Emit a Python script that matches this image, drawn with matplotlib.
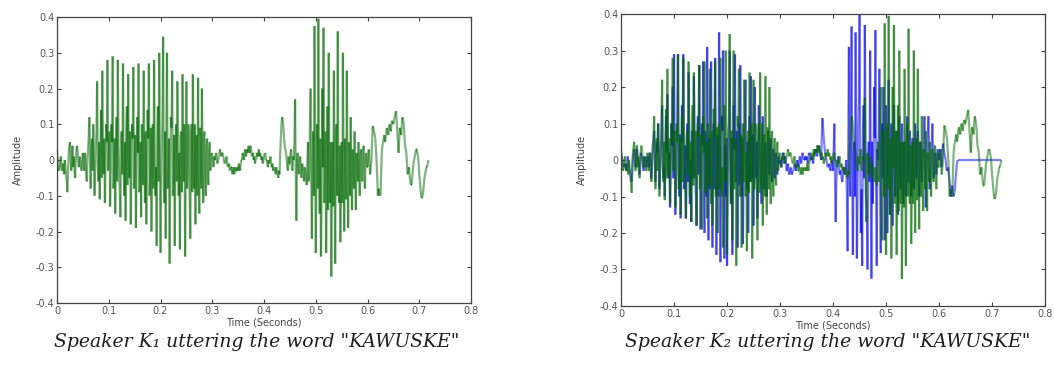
"""
Two speech waveforms of the word "KAWUSKE": speaker K1 alone,
and speaker K2 (blue) overlaid with speaker K1 (green).
"""

import numpy as np
import matplotlib
matplotlib.use('Agg')
import matplotlib.pyplot as plt
from matplotlib.collections import LineCollection

plt.rcParams['axes.unicode_minus'] = False

sample_rate = 800.  # samples per second of the traced waveforms

# speaker K1, one row = 0.05 s
k1_wave = [
    0.03, 0.0, -0.01, -0.03, -0.02, 0.0, 0.01, -0.02, -0.03, -0.01, -0.02, -0.04, 0.0, -0.02, -0.04, -0.06, -0.09, -0.03, 0.02, 0.04,
    0.05, 0.0, -0.03, 0.02, 0.04, -0.02, 0.01, -0.03, -0.05, 0.0, 0.03, 0.04, 0.02, -0.01, -0.02, 0.01, 0.0, -0.02, -0.03, 0.0,
    0.02, -0.01, -0.03, 0.02, 0.01, -0.04, -0.06, 0.0, 0.03, 0.06, 0.12, 0.0, -0.08, 0.03, 0.06, -0.03, 0.1, 0.02, -0.1, -0.02,
    0.04, 0.08, 0.22, -0.02, -0.06, 0.05, -0.11, 0.02, 0.14, -0.05, 0.25, 0.03, -0.04, 0.06, -0.12, -0.02, 0.1, 0.05, 0.28, -0.03,
    0.02, 0.08, -0.13, -0.04, 0.1, 0.05, 0.29, -0.08, -0.06, 0.06, -0.15, 0.02, 0.12, -0.06, 0.28, 0.04, -0.02, -0.09, -0.16, 0.07,
    0.08, -0.04, 0.27, -0.02, -0.1, 0.05, -0.17, 0.09, 0.15, -0.07, 0.24, 0.0, -0.05, 0.08, -0.18, -0.03, 0.1, 0.06, 0.26, -0.08,
    -0.04, 0.07, -0.19, -0.02, 0.12, 0.02, 0.27, -0.09, -0.08, 0.05, -0.16, 0.1, 0.05, -0.07, 0.25, 0.03, -0.12, 0.08, -0.18, -0.05,
    0.14, 0.06, 0.27, -0.1, -0.05, 0.09, -0.2, 0.02, 0.1, -0.08, 0.28, 0.05, -0.1, -0.02, -0.24, 0.08, 0.15, -0.06, 0.3, 0.0,
    -0.26, -0.05, 0.05, 0.12, 0.345, -0.06, -0.12, 0.08, -0.22, 0.1, 0.3, -0.08, -0.02, 0.06, -0.29, -0.04, 0.12, 0.09, 0.25, -0.1,
    -0.08, 0.07, -0.24, 0.03, 0.1, -0.06, 0.22, 0.1, -0.1, 0.02, -0.25, 0.07, 0.08, -0.09, 0.24, 0.04, -0.06, 0.1, -0.27, -0.02,
    0.22, -0.08, -0.05, 0.1, 0.08, -0.1, -0.22, 0.06, 0.1, -0.09, 0.24, -0.04, -0.08, 0.1, -0.18, 0.05, 0.07, -0.1, 0.23, -0.06,
    -0.15, 0.09, 0.06, -0.08, 0.2, -0.04, -0.12, 0.07, 0.08, -0.06, -0.1, 0.04, 0.06, -0.05, -0.07, 0.03, 0.05, -0.03, -0.02, 0.02,
    0.01, 0.0, -0.02, 0.01, 0.0, 0.01, 0.02, 0.0, -0.01, 0.0, 0.01, 0.02, 0.03, 0.02, 0.01, 0.02, 0.02, 0.01, 0.0, -0.01,
    -0.01, 0.0, 0.01, -0.01, -0.02, -0.02, -0.01, -0.03, -0.03, -0.02, -0.02, -0.04, -0.03, -0.02, -0.04, -0.03, -0.02, -0.03, -0.03, -0.02,
    -0.03, -0.01, -0.02, -0.03, -0.01, 0.0, 0.0, 0.02, 0.01, 0.0, 0.02, 0.03, 0.01, 0.02, 0.03, 0.02, 0.04, 0.03, 0.02, 0.04,
    0.03, 0.01, 0.01, 0.02, 0.0, 0.01, -0.01, 0.0, 0.0, 0.02, 0.01, 0.02, 0.03, 0.01, 0.02, 0.01, 0.0, 0.01, -0.01, 0.0,
    0.01, 0.02, 0.02, 0.0, 0.0, -0.01, -0.02, 0.0, -0.01, 0.0, 0.01, -0.01, -0.02, -0.01, -0.03, -0.02, -0.02, -0.03, -0.04, -0.02,
    -0.03, -0.04, -0.05, -0.03, -0.04, 0.02, 0.06, 0.1, 0.12, 0.11, 0.09, 0.06, 0.04, 0.03, 0.02, 0.0, -0.02, -0.03, 0.01, -0.01,
    -0.01, 0.02, 0.03, -0.02, -0.03, 0.01, 0.0, 0.05, 0.17, -0.04, -0.17, 0.0, 0.02, -0.03, -0.04, 0.0, 0.01, -0.03, -0.05, -0.01,
    -0.02, -0.04, -0.06, -0.02, -0.03, -0.05, -0.07, 0.0, 0.05, -0.06, -0.03, 0.1, 0.2, -0.05, -0.22, 0.0, 0.08, -0.1, 0.375, 0.05,
    -0.26, -0.04, 0.1, -0.08, 0.395, 0.02, -0.15, 0.06, -0.27, -0.1, 0.2, -0.02, 0.37, -0.12, -0.05, 0.08, -0.26, -0.06, 0.15, -0.14,
    0.3, 0.0, -0.12, 0.05, -0.326, -0.08, 0.05, -0.13, 0.25, -0.02, -0.29, 0.07, 0.1, -0.1, 0.36, -0.05, -0.12, 0.04, -0.23, -0.09,
    0.05, -0.12, 0.3, -0.04, -0.2, 0.06, -0.06, -0.11, 0.25, -0.02, -0.19, 0.05, 0.02, -0.1, 0.12, -0.05, -0.14, 0.03, -0.03, -0.08,
    0.08, -0.04, -0.14, 0.02, -0.02, -0.06, 0.05, -0.03, -0.1, 0.01, 0.03, -0.05, -0.06, 0.02, 0.04, -0.04, -0.08, 0.0, 0.02, -0.02,
    -0.02, 0.01, 0.03, -0.01, -0.04, -0.02, 0.0, 0.05, 0.095, 0.09, 0.08, 0.07, 0.06, 0.03, 0.0, -0.05, -0.1, -0.08, -0.09, -0.1,
    -0.1, -0.04, 0.02, 0.04, 0.05, 0.06, 0.07, 0.05, 0.06, 0.08, 0.09, 0.08, 0.07, 0.09, 0.1, 0.09, 0.08, 0.1, 0.11, 0.1,
    0.1, 0.11, 0.12, 0.13, 0.137, 0.11, 0.08, 0.05, 0.02, 0.06, 0.09, 0.08, 0.07, 0.1, 0.12, 0.11, 0.1, 0.07, 0.04, 0.03,
    0.02, -0.01, -0.04, -0.03, -0.02, -0.04, -0.06, -0.07, -0.07, -0.05, -0.03, -0.01, 0.0, 0.01, 0.02, 0.03, 0.03, 0.02, 0.01, -0.01,
    -0.04, -0.06, -0.08, -0.1, -0.107, -0.1, -0.09, -0.07, -0.05, -0.04, -0.03, -0.02, -0.02, -0.01, 0.0,
]

# speaker K2, zero padded after 0.64 s
k2_wave = [
    0.02, 0.01, 0.0, -0.01, -0.02, -0.02, -0.01, -0.02, -0.03, -0.01, 0.01, 0.0, -0.02, -0.03, -0.04, -0.05, -0.06, -0.02, 0.01, 0.02,
    0.03, 0.0, -0.02, 0.01, 0.03, 0.01, 0.0, -0.02, -0.04, -0.01, 0.02, 0.01, 0.01, -0.01, -0.03, -0.01, 0.01, 0.0, -0.02, -0.01,
    0.01, 0.0, -0.02, 0.0, 0.02, -0.02, -0.05, 0.0, 0.04, 0.05, 0.08, 0.01, -0.06, 0.0, 0.05, 0.02, 0.1, 0.0, -0.08, -0.02,
    0.03, 0.06, 0.15, 0.0, -0.05, -0.02, -0.1, 0.03, 0.12, 0.02, 0.18, -0.02, -0.05, 0.02, -0.13, 0.0, 0.1, 0.04, 0.2, -0.05,
    0.29, 0.05, -0.15, -0.06, 0.05, 0.1, 0.29, -0.02, -0.1, 0.07, -0.16, -0.04, 0.15, 0.05, 0.29, -0.08, -0.05, 0.04, -0.16, 0.02,
    0.1, -0.06, 0.24, 0.06, -0.12, 0.0, -0.17, 0.08, 0.08, -0.05, 0.23, 0.03, -0.06, -0.1, -0.18, 0.05, 0.12, -0.04, 0.26, 0.02,
    -0.19, -0.05, 0.1, 0.04, 0.27, -0.06, -0.2, 0.08, 0.05, -0.1, 0.31, 0.02, -0.22, 0.06, -0.08, 0.1, 0.27, -0.04, -0.24, 0.05,
    0.1, -0.08, 0.28, 0.0, -0.26, 0.07, 0.05, -0.1, 0.35, 0.04, -0.28, -0.02, 0.12, 0.08, 0.3, -0.06, -0.27, 0.04, -0.1, 0.06,
    -0.29, -0.04, 0.08, 0.1, 0.3, -0.02, -0.12, 0.06, -0.26, -0.08, 0.15, 0.03, 0.29, -0.06, -0.05, 0.08, -0.24, -0.02, 0.1, -0.07,
    0.26, 0.04, -0.1, 0.06, -0.23, -0.03, 0.05, 0.09, 0.22, -0.04, -0.08, 0.05, -0.2, 0.02, 0.12, -0.06, 0.23, 0.03, -0.05, 0.07,
    -0.18, 0.02, 0.2, -0.03, -0.05, 0.05, -0.16, -0.02, 0.15, 0.06, 0.03, -0.05, -0.12, 0.04, 0.12, -0.02, -0.08, 0.03, 0.05, -0.04,
    -0.1, 0.02, 0.08, -0.02, -0.04, 0.03, 0.06, -0.03, -0.06, 0.01, 0.03, -0.02, -0.05, 0.0, 0.02, -0.03, -0.04, 0.0, 0.01, -0.01,
    0.0, -0.01, -0.02, 0.0, 0.02, 0.01, -0.01, 0.0, 0.01, -0.01, -0.03, -0.02, -0.01, -0.03, -0.04, -0.03, -0.02, -0.03, -0.04, -0.03,
    -0.03, -0.02, -0.01, -0.02, -0.03, -0.01, 0.0, -0.01, -0.02, 0.0, 0.01, 0.0, -0.01, 0.01, 0.02, 0.01, 0.0, 0.0, 0.01, 0.0,
    0.01, 0.0, -0.01, 0.01, 0.02, 0.01, 0.0, 0.0, 0.01, 0.0, -0.01, 0.01, 0.02, 0.02, 0.03, 0.02, 0.01, 0.03, 0.04, 0.03,
    0.03, 0.01, 0.0, 0.06, 0.115, 0.09, 0.06, 0.04, 0.02, 0.01, 0.0, -0.01, -0.02, -0.02, -0.01, -0.02, -0.03, -0.02, 0.0, -0.01,
    -0.03, 0.03, 0.1, -0.05, -0.17, -0.06, -0.02, 0.0, 0.01, -0.02, -0.04, -0.03, -0.03, -0.05, -0.06, -0.04, -0.02, -0.03, -0.04, -0.02,
    0.0, -0.1, -0.25, 0.05, 0.31, -0.05, -0.1, 0.1, 0.366, -0.04, -0.26, 0.02, 0.05, -0.1, 0.35, 0.05, -0.27, -0.08, 0.1, 0.15,
    0.4, 0.02, -0.2, -0.08, -0.29, 0.04, 0.15, -0.05, 0.37, 0.06, -0.1, -0.12, -0.3, 0.02, 0.05, -0.06, 0.3, -0.04, -0.325, 0.05,
    -0.12, -0.02, 0.2, 0.06, 0.356, -0.08, -0.29, 0.03, 0.0, 0.08, 0.25, -0.06, -0.255, 0.02, 0.1, -0.05, 0.2, 0.04, -0.22, -0.03,
    0.15, -0.03, -0.2, 0.05, 0.22, -0.04, -0.15, 0.03, 0.1, -0.06, -0.18, 0.02, 0.15, -0.03, -0.1, 0.04, 0.08, -0.05, -0.15, 0.02,
    0.12, -0.03, -0.08, 0.04, 0.1, -0.02, -0.12, 0.03, 0.05, -0.04, -0.1, 0.02, 0.12, -0.03, -0.06, 0.04, 0.08, -0.02, -0.1, 0.01,
    0.06, -0.01, -0.08, 0.02, 0.1, -0.01, -0.05, 0.03, 0.08, -0.02, -0.1, 0.01, 0.05, -0.02, -0.06, 0.0, 0.02, 0.06, 0.12, -0.02,
    -0.13, -0.04, 0.03, 0.07, 0.12, 0.02, -0.08, -0.03, 0.0, 0.05, 0.1, 0.02, -0.05, -0.01, 0.02, -0.01, -0.04, 0.0, 0.03, 0.01,
    0.0, 0.02, 0.03, 0.0, -0.02, 0.02, 0.045, 0.03, 0.02, 0.01, 0.0, -0.02, -0.03, -0.02, -0.02, -0.04, -0.06, -0.08, -0.1, -0.08,
    -0.07, -0.09, -0.1, -0.09, -0.08, -0.05, -0.03, -0.01, 0.0, 0.0, 0.0, 0.0, 0.0, 0.0, 0.0, 0.0, 0.0, 0.0, 0.0, 0.0,
    0.0, 0.0, 0.0, 0.0, 0.0, 0.0, 0.0, 0.0, 0.0, 0.0, 0.0, 0.0, 0.0, 0.0, 0.0, 0.0, 0.0, 0.0, 0.0, 0.0,
    0.0, 0.0, 0.0, 0.0, 0.0, 0.0, 0.0, 0.0, 0.0, 0.0, 0.0, 0.0, 0.0, 0.0, 0.0, 0.0, 0.0, 0.0, 0.0, 0.0,
    0.0, 0.0, 0.0, 0.0, 0.0, 0.0, 0.0, 0.0, 0.0, 0.0, 0.0, 0.0, 0.0, 0.0, 0.0,
]

x_ticks = [0, 0.1, 0.2, 0.3, 0.4, 0.5, 0.6, 0.7, 0.8]
y_ticks = [-0.4, -0.3, -0.2, -0.1, 0, 0.1, 0.2, 0.3, 0.4]
captions = ['Speaker K\u2081 uttering the word "KAWUSKE"',
            'Speaker K\u2082 uttering the word "KAWUSKE"']


def add_wave(ax, y, color, lw=1.6):
    t = np.arange(len(y)) / sample_rate
    pts = np.column_stack([t, y])
    segs = np.stack([pts[:-1], pts[1:]], axis=1)
    lc = LineCollection(segs, colors=color, linewidths=lw, alpha=0.5)
    ax.add_collection(lc)


def style(ax):
    ax.set_xlim(0, 0.8)
    ax.set_ylim(-0.4, 0.4)
    ax.set_xticks(x_ticks)
    ax.set_yticks(y_ticks)
    ax.set_xticklabels(['%g' % v for v in x_ticks])
    ax.set_yticklabels(['%g' % v for v in y_ticks])
    ax.tick_params(direction='in', top=True, right=True, length=3,
                   labelsize=7, labelcolor='#555555', color='#444444', pad=2)
    for s in ax.spines.values():
        s.set_color('#444444')
        s.set_linewidth(0.9)
    ax.set_xlabel('Time (Seconds)', fontsize=7, color='#444444', labelpad=1)
    ax.set_ylabel('Amplitude', fontsize=7, color='#444444', labelpad=9)


def main():
    f = plt.figure(figsize=(10.54, 3.70), dpi=100)
    ax1 = f.add_axes([0.0541, 0.181, 0.3928, 0.773])
    ax2 = f.add_axes([0.5892, 0.173, 0.4023, 0.789])

    add_wave(ax1, k1_wave, '#006800')
    add_wave(ax2, k2_wave, '#0000ee')
    add_wave(ax2, k1_wave, '#006800')

    style(ax1)
    style(ax2)

    f.text(0.244, 0.075, captions[0], ha='center', va='center',
           family='DejaVu Serif', style='italic', fontsize=13.5, color='#1e1e1e')
    f.text(0.785, 0.075, captions[1], ha='center', va='center',
           family='DejaVu Serif', style='italic', fontsize=13.5, color='#1e1e1e')

    f.savefig('out.png', dpi=100)


if __name__ == '__main__':
    main()
